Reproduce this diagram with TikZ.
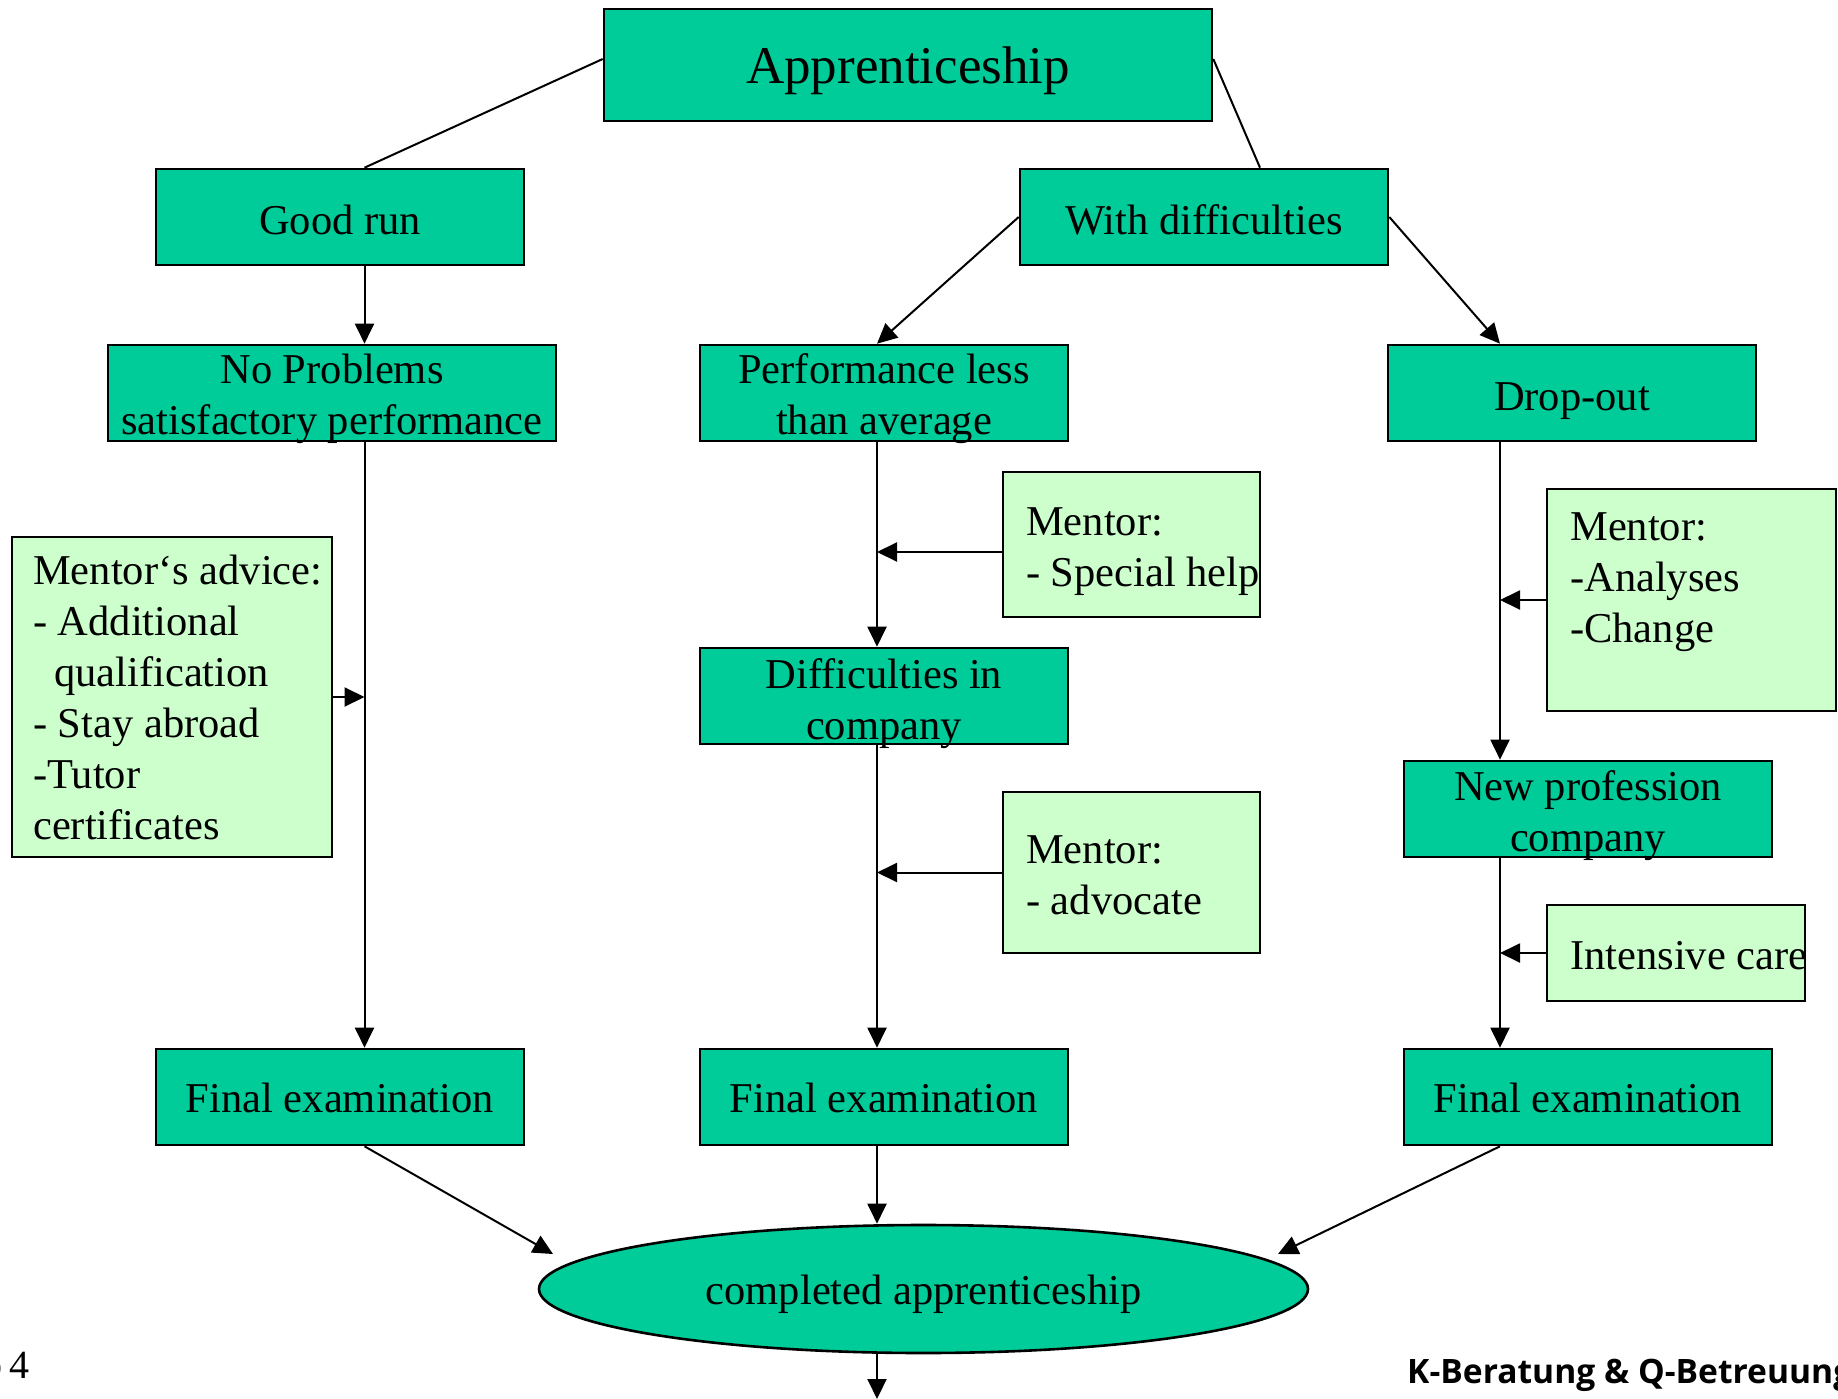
\documentclass[tikz,border=0pt]{standalone}
\usepackage{fontspec}
\setmainfont{Liberation Serif}
\newfontfamily\footfont{Open Sans}
\usetikzlibrary{arrows.meta,shapes.geometric}
\definecolor{boxgreen}{RGB}{0,204,153}
\definecolor{notegreen}{RGB}{204,255,204}
\begin{document}
\begin{tikzpicture}[x=1pt,y=-1pt,
  box/.style={draw=black,line width=2.6pt,fill=boxgreen,inner sep=0pt},
  boxtext/.style={inner sep=0pt,align=center,font=\fontsize{42.5}{51}\selectfont},
  note/.style={draw=black,line width=2.6pt,fill=notegreen,inner sep=0pt},
  notetext/.style={anchor=north west,inner sep=0pt,align=left,
    font=\fontsize{42.5}{51}\selectfont},
  link/.style={line width=2pt},
  arr/.style={line width=2pt,-{Triangle[length=20pt,width=19pt]}}]
\useasboundingbox[fill=white] (0,0) rectangle (1838,1399);
% columns
\coordinate (colL) at (364.5,0);
\coordinate (colM) at (877,0);
\coordinate (colR) at (1500,0);
\coordinate (wdTop) at (1260,0);
% main boxes
\node[box,minimum width=608,minimum height=112] (app) at (908,65) {};
\node[box,minimum width=368,minimum height=96] (good) at (340,217) {};
\node[box,minimum width=368,minimum height=96] (withd) at (1204,217) {};
\node[box,minimum width=448,minimum height=96] (noprob) at (332,393) {};
\node[box,minimum width=368,minimum height=96] (perf) at (884,393) {};
\node[box,minimum width=368,minimum height=96] (drop) at (1572,393) {};
\node[box,minimum width=368,minimum height=96] (diff) at (884,696) {};
\node[box,minimum width=368,minimum height=96] (newprof) at (1588,809) {};
\node[box,minimum width=368,minimum height=96] (fin1) at (340,1097) {};
\node[box,minimum width=368,minimum height=96] (fin2) at (884,1097) {};
\node[box,minimum width=368,minimum height=96] (fin3) at (1588,1097) {};
\node[box,ellipse,minimum width=769,minimum height=128] (ell) at (923.5,1289) {};
% box texts
\node[boxtext,font=\fontsize{53}{60}\selectfont] (appt) at ([yshift=-6pt]app.center) {Apprenticeship};
\node[boxtext] (goodt) at ([yshift=-2.5pt]good.center) {Good run};
\node[boxtext] (withdt) at ([yshift=-2.5pt]withd.center) {With difficulties};
\node[boxtext] (noprobt) at ([yshift=-6pt]noprob.center) {No Problems\\satisfactory performance};
\node[boxtext] (perft) at ([yshift=-6pt]perf.center) {Performance less\\than average};
\node[boxtext] (dropt) at ([yshift=-8pt]drop.center) {Drop-out};
\node[boxtext] (difft) at ([yshift=-8pt]diff.center) {Difficulties in\\company};
\node[boxtext] (newproft) at ([yshift=-7pt]newprof.center) {New profession\\company};
\node[boxtext] (fin1t) at ([yshift=-1pt]fin1.center) {Final examination};
\node[boxtext] (fin2t) at ([yshift=-1pt]fin2.center) {Final examination};
\node[boxtext] (fin3t) at ([yshift=-1pt]fin3.center) {Final examination};
\node[boxtext] (ellt) at ([yshift=-5pt]ell.center) {completed apprenticeship};
% notes
\node[note,minimum width=320,minimum height=320] (advice) at (172,697) {};
\node[note,minimum width=257,minimum height=145] (help) at (1131.5,544.5) {};
\node[note,minimum width=289,minimum height=222] (analyses) at (1691.5,600) {};
\node[note,minimum width=257,minimum height=161] (advocate) at (1131.5,872.5) {};
\node[note,minimum width=258,minimum height=96] (intensive) at (1676,953) {};
\node[notetext] (advicetxt) at (33,555) {Mentor‘s advice:\\- Additional\\\hspace*{21pt}qualification\\- Stay abroad\\-Tutor\\certificates};
\node[notetext] (helptxt) at (1026,507.5) {Mentor:\\- Special help};
\node[notetext] (analysestxt) at (1570,512.5) {Mentor:\\-Analyses\\-Change};
\node[notetext] (advocatetxt) at (1026,835.5) {Mentor:\\- advocate};
\node[notetext] (intensivetxt) at (1570,941.5) {Intensive care};
% connectors
\draw[link] ([yshift=6pt]app.west) -- (good.north -| colL);
\draw[link] ([yshift=6pt]app.east) -- (withd.north -| wdTop);
\draw[arr] (good.south -| colL) -- (noprob.north -| colL);
\draw[arr] (withd.west) -- (perf.north -| colM);
\draw[arr] (withd.east) -- (drop.north -| colR);
\draw[arr] (noprob.south -| colL) -- (fin1.north -| colL);
\draw[arr] (advice.east) -- (advice.east -| colL);
\draw[arr] (perf.south -| colM) -- (diff.north -| colM);
\draw[arr] ([yshift=-7.5pt]help.west) -- ([yshift=-7.5pt]help.west -| colM);
\draw[arr] (diff.south -| colM) -- (fin2.north -| colM);
\draw[arr] (advocate.west) -- (advocate.west -| colM);
\draw[arr] (drop.south -| colR) -- (newprof.north -| colR);
\draw[arr] (analyses.west) -- (analyses.west -| colR);
\draw[arr] (newprof.south -| colR) -- (fin3.north -| colR);
\draw[arr] (intensive.west) -- (intensive.west -| colR);
\coordinate (inL) at (553,1254);
\coordinate (inR) at (1278,1254);
\coordinate (outB) at (877,1399);
\draw[arr] (fin1.south -| colL) -- (inL);
\draw[arr] (fin2.south -| colM) -- (ell.north -| colM);
\draw[arr] (fin3.south -| colR) -- (inR);
\draw[arr] (ell.south -| colM) -- (outB);
% footer
\node[anchor=base east,inner sep=0pt,font=\fontsize{40}{48}\selectfont] (pageno) at (30,1378) {b\hspace{7pt}4};
\node[anchor=base west,inner sep=0pt,font=\footfont\bfseries\fontsize{33.6}{40}\selectfont] (footer) at (1407,1383) {K-Beratung \& Q-Betreuung};
\end{tikzpicture}
\end{document}
